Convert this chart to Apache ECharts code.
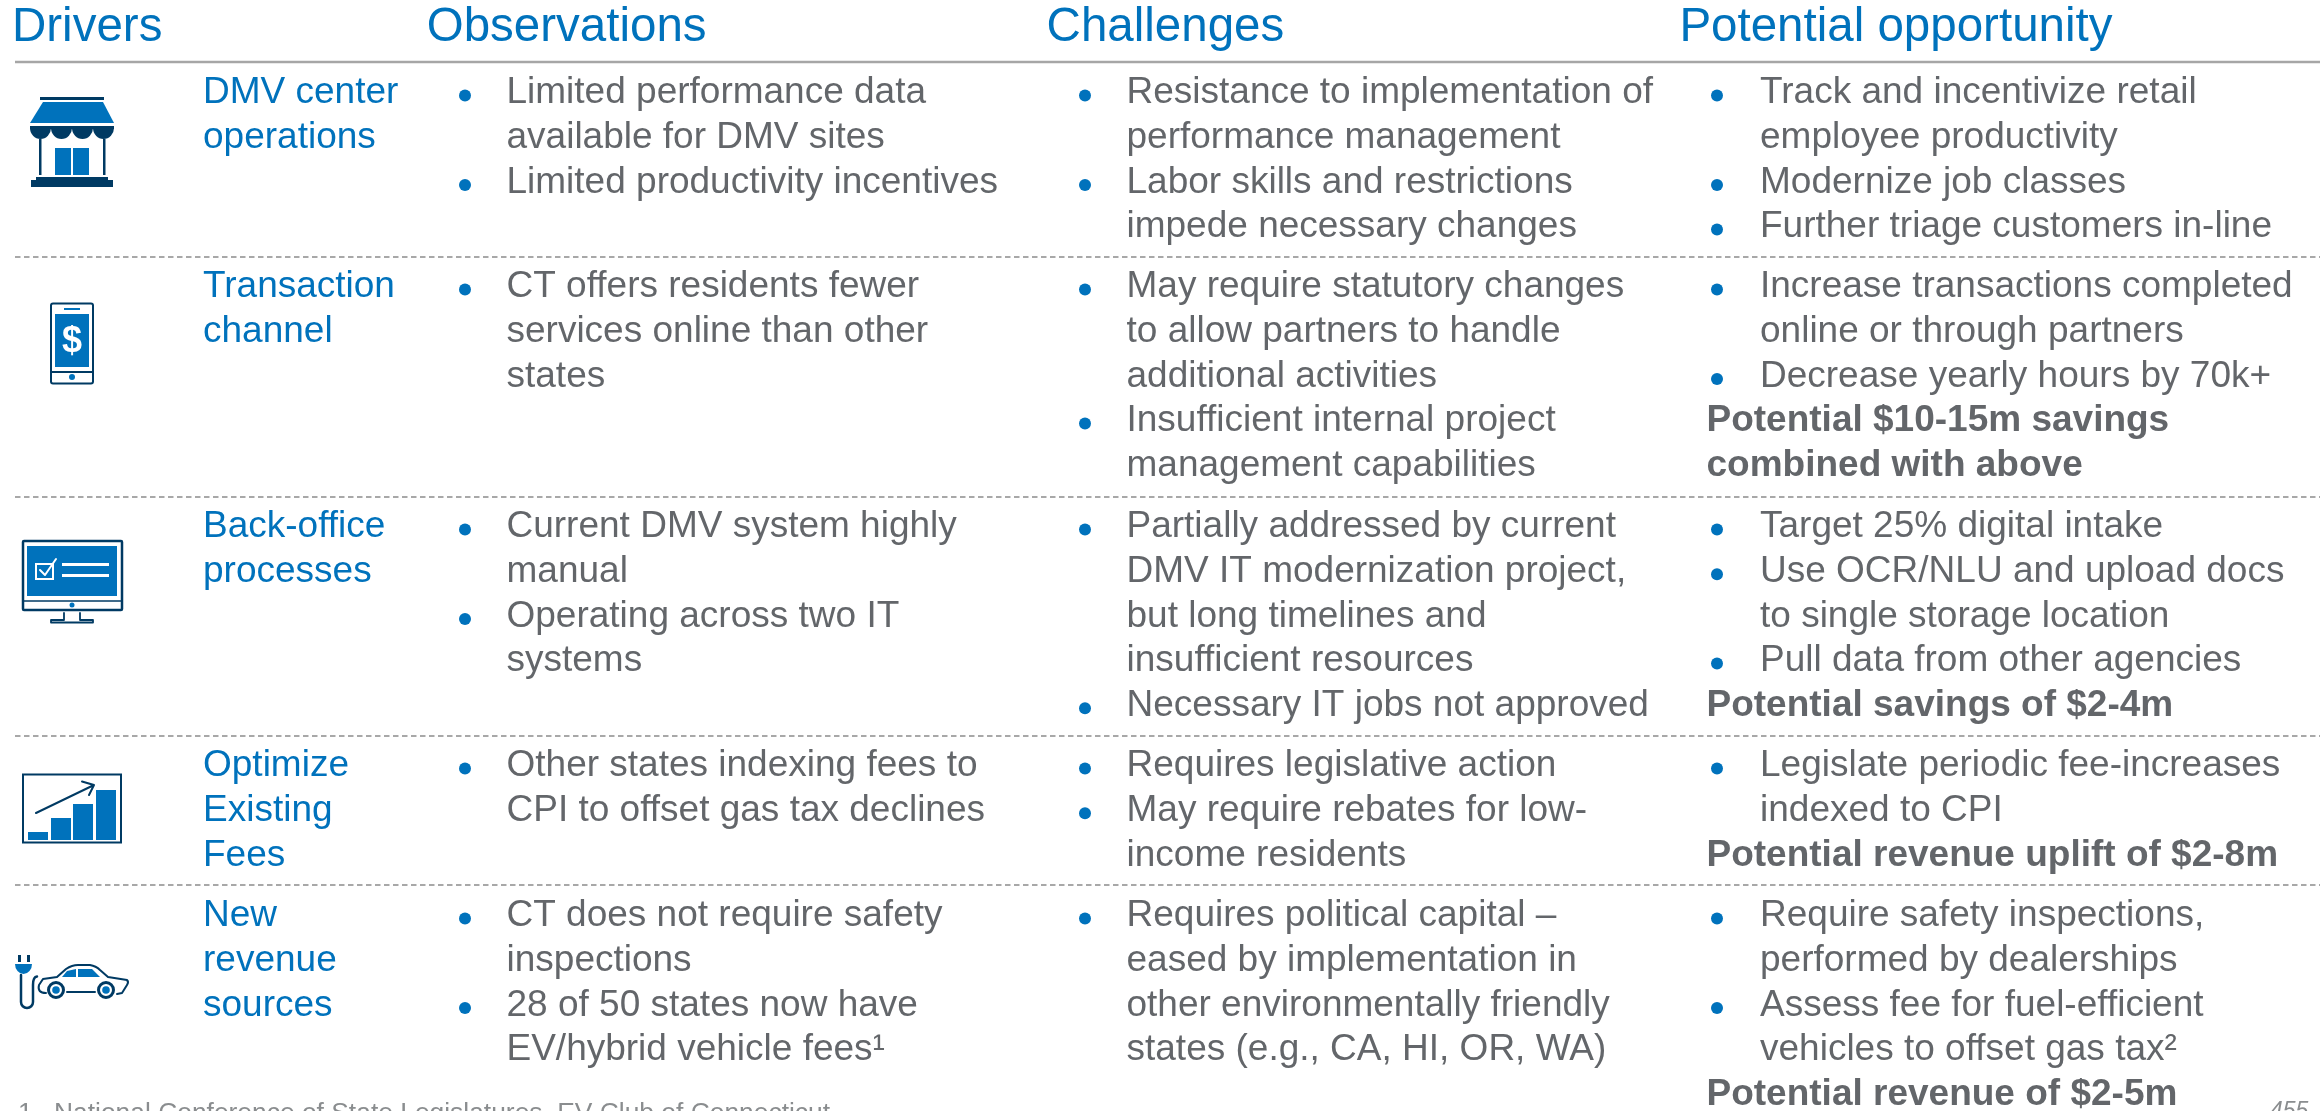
<!DOCTYPE html>
<html><head><meta charset="utf-8">
<style>html,body{margin:0;padding:0;background:#fff;overflow:hidden}#c{width:2323px;height:1111px}</style>
<script src="https://cdn.jsdelivr.net/npm/echarts@6/dist/echarts.min.js"></script>
</head><body><div id="c"></div>
<script>
// "• " = bullet line, "# " = bold line, anything else = continuation line
const headers = ["Drivers", "Observations", "Challenges", "Potential opportunity"];
const drivers = [
  ["DMV center", "operations"],
  ["Transaction", "channel"],
  ["Back-office", "processes"],
  ["Optimize", "Existing", "Fees"],
  ["New", "revenue", "sources"]
];
const observations = [
  ["• Limited performance data", "available for DMV sites", "• Limited productivity incentives"],
  ["• CT offers residents fewer", "services online than other", "states"],
  ["• Current DMV system highly", "manual", "• Operating across two IT", "systems"],
  ["• Other states indexing fees to", "CPI to offset gas tax declines"],
  ["• CT does not require safety", "inspections", "• 28 of 50 states now have", "EV/hybrid vehicle fees¹"]
];
const challenges = [
  ["• Resistance to implementation of", "performance management", "• Labor skills and restrictions", "impede necessary changes"],
  ["• May require statutory changes", "to allow partners to handle", "additional activities", "• Insufficient internal project", "management capabilities"],
  ["• Partially addressed by current", "DMV IT modernization project,", "but long timelines and", "insufficient resources", "• Necessary IT jobs not approved"],
  ["• Requires legislative action", "• May require rebates for low-", "income residents"],
  ["• Requires political capital –", "eased by implementation in", "other environmentally friendly", "states (e.g., CA, HI, OR, WA)"]
];
const opportunity = [
  ["• Track and incentivize retail", "employee productivity", "• Modernize job classes", "• Further triage customers in-line"],
  ["• Increase transactions completed", "online or through partners", "• Decrease yearly hours by 70k+", "# Potential $10-15m savings", "# combined with above"],
  ["• Target 25% digital intake", "• Use OCR/NLU and upload docs", "to single storage location", "• Pull data from other agencies", "# Potential savings of $2-4m"],
  ["• Legislate periodic fee-increases", "indexed to CPI", "# Potential revenue uplift of $2-8m"],
  ["• Require safety inspections,", "performed by dealerships", "• Assess fee for fuel-efficient", "vehicles to offset gas tax²", "# Potential revenue of $2-5m"]
];
const footnote = "National Conference of State Legislatures, EV Club of Connecticut";
const pageNumber = "455";

const BLUE = '#0072BC', NAVY = '#003A63', GRAY = '#63666A', FONT = '"Liberation Sans", Arial, sans-serif';
const FS = 37, LH = 44.7;
const rowFirst = [106, 300, 540, 779, 929];
const rowLines = [257, 497, 736, 885];
const g = [];
function txt(s, x, base, size, color, extra) {
  g.push({type:'text', x, y: base - size*0.3465, silent:true, style:Object.assign({
    text:s, fill:color, font:`${size}px ${FONT}`, textAlign:'left', textVerticalAlign:'middle'}, extra||{})});
}
const headX = [12, 426.7, 1046.6, 1679.4];
headers.forEach((h,i)=>txt(h, headX[i], 44, 47.5, BLUE));
g.push({type:'line', silent:true, shape:{x1:15,y1:62,x2:2320,y2:62}, style:{stroke:'#A6A6A6', lineWidth:2.5}});
rowLines.forEach(y=>g.push({type:'line', silent:true, shape:{x1:15,y1:y,x2:2320,y2:y}, style:{stroke:'#8C8C8C', lineWidth:1.5, lineDash:[5.5,3.5]}}));
drivers.forEach((lines,r)=>lines.forEach((s,l)=>txt(s, 203, rowFirst[r]+l*LH, FS, BLUE)));
function column(data, bx, tx, hx) {
  data.forEach((lines,r)=>lines.forEach((s,l)=>{
    const b = rowFirst[r]+l*LH;
    if (s.startsWith('• ')) {
      g.push({type:'circle', silent:true, shape:{cx:bx, cy:b-10.5, r:6}, style:{fill:BLUE}});
      txt(s.slice(2), tx, b, FS, GRAY);
    } else if (s.startsWith('# ')) {
      txt(s.slice(2), hx, b, FS, GRAY, {font:`bold ${FS}px ${FONT}`});
    } else txt(s, tx, b, FS, GRAY);
  }));
}
column(observations, 465, 506.5, 465);
column(challenges, 1085, 1126.5, 1085);
column(opportunity, 1717, 1760, 1706.5);
txt("1.", 18, 1123, 26.4, '#8A8D8F');
txt(footnote, 54, 1123, 26.4, '#8A8D8F');
txt(pageNumber, 2270, 1120, 23, '#8A8D8F', {font:`italic 23px ${FONT}`});

// icons
let pid = 0;
function pathShape(d, style) {
  const name = 'iconPath' + (pid++);
  echarts.graphic.registerShape(name, echarts.graphic.extendPath(d));
  return {type:name, silent:true, style};
}
const R=(x,y,w,h,fill)=>({type:'rect',silent:true,shape:{x,y,width:w,height:h},style:{fill}});
const SR=(x,y,w,h,stroke,lw,r)=>({type:'rect',silent:true,shape:{x,y,width:w,height:h,r:r||0},style:{fill:'none',stroke,lineWidth:lw}});
const P=(points,fill)=>({type:'polygon',silent:true,shape:{points},style:{fill}});
const C=(cx,cy,r,fill,stroke,lw)=>({type:'circle',silent:true,shape:{cx,cy,r},style:{fill,stroke:stroke||'none',lineWidth:lw||0}});
const L=(d,stroke,lw)=>pathShape(d,{fill:'none',stroke,lineWidth:lw,lineCap:'round',lineJoin:'round'});
const F=(d,fill)=>pathShape(d,{fill});
// storefront
g.push(R(40,97,64,3,NAVY), P([[43,102],[103,102],[114,123],[30,123]],BLUE), R(30,126,84,3,NAVY));
[40.5,61.5,82.5,103.5].forEach(cx=>g.push(F(`M${cx-10.5} 128 A10.5 11 0 0 0 ${cx+10.5} 128 Z`,NAVY)));
g.push(R(39,139,2.5,36,NAVY), R(103,139,2.5,36,NAVY), R(55,148,16,27,BLUE), R(73,148,16,27,BLUE), R(36,177,72,3,NAVY), R(31,180,82,7,NAVY));
// phone
g.push(SR(51,303.5,42,80,NAVY,2,2), R(55,314,34,53,BLUE), R(64,308,16,2,BLUE), {type:'line',silent:true,shape:{x1:51,y1:372,x2:93,y2:372},style:{stroke:NAVY,lineWidth:2}}, C(72,377,3,BLUE));
g.push({type:'text',silent:true,x:72,y:342,style:{text:'$',fill:'#fff',font:`bold 36px ${FONT}`,textAlign:'center',textVerticalAlign:'middle'}});
// monitor
g.push(SR(23,541,99,69,NAVY,2.5,1), R(27,546,90,50,BLUE), {type:'line',silent:true,shape:{x1:23,y1:601,x2:122,y2:601},style:{stroke:NAVY,lineWidth:1.5}}, C(72,605,2.5,BLUE));
g.push(L('M64 613 L64 620 L51 620 L51 622.5 L93 622.5 L93 620 L80 620 L80 613',NAVY,1.8));
g.push(SR(36,564,17,15,'#fff',2), L('M40 570 L45 575 L56 559','#fff',2), R(62,563,47,3,'#fff'), R(62,574,47,3,'#fff'));
// rising chart
g.push(SR(23,774.5,98,68,NAVY,2), R(28,832,20,8,BLUE), R(51,818,20,22,BLUE), R(73,804,20,36,BLUE), R(96,790,20,50,BLUE));
g.push(L('M36 813 L94 785 M82 781.5 L94 785 L89 795',NAVY,2));
// plug & car
g.push(R(18,955,3,7,NAVY), R(27,955,3,7,NAVY), F('M15 964 L32 964 A8.5 10 0 0 1 15 964 Z',BLUE));
g.push(L('M21 975 L21 1002 A6 6 0 0 0 33 1002 L33 985 Q33 977 37 976.5',NAVY,2.5));
g.push(L('M46 993 Q37 993 39 985 L43 979 L57 977 L66 969 Q72 965 78 965 L90 965 Q96 966 100 970 L108 977 L127 980 Q129 982 127 985 L122 993 L117 994 M67 992 L95 992',NAVY,2));
g.push(P([[62,977],[67,971],[76,969],[76,977]],BLUE), P([[78,969],[92,969],[100,977],[78,977]],BLUE));
g.push(C(56,990,7.5,'#fff',NAVY,3), C(56,990,3.8,BLUE), C(106,990,7.5,'#fff',NAVY,3), C(106,990,3.8,BLUE));

const chart = echarts.init(document.getElementById('c'), null, {renderer:'canvas'});
chart.setOption({animation:false, backgroundColor:'#fff', graphic:{elements:g}});
</script></body></html>
